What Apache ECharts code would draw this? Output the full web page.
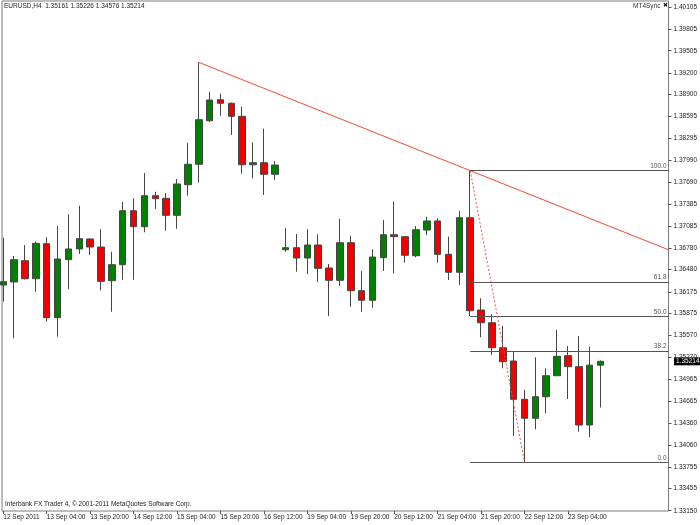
<!DOCTYPE html>
<html>
<head>
<meta charset="utf-8">
<script src="https://cdn.jsdelivr.net/npm/echarts@6/dist/echarts.min.js"></script>
<style>html,body{margin:0;padding:0;background:#fff;}#c{width:700px;height:525px;}</style>
</head>
<body>
<div id="c"></div>
<script>
// H4 bar times (index 0 = 12 Sep 12:00)
const barTimes = ['12 Sep 12:00','12 Sep 16:00','12 Sep 20:00','13 Sep 00:00','13 Sep 04:00','13 Sep 08:00','13 Sep 12:00','13 Sep 16:00','13 Sep 20:00','14 Sep 00:00','14 Sep 04:00','14 Sep 08:00','14 Sep 12:00','14 Sep 16:00','14 Sep 20:00','15 Sep 00:00','15 Sep 04:00','15 Sep 08:00','15 Sep 12:00','15 Sep 16:00','15 Sep 20:00','16 Sep 00:00','16 Sep 04:00','16 Sep 08:00','16 Sep 12:00','16 Sep 16:00','16 Sep 20:00','19 Sep 00:00','19 Sep 04:00','19 Sep 08:00','19 Sep 12:00','19 Sep 16:00','19 Sep 20:00','20 Sep 00:00','20 Sep 04:00','20 Sep 08:00','20 Sep 12:00','20 Sep 16:00','20 Sep 20:00','21 Sep 00:00','21 Sep 04:00','21 Sep 08:00','21 Sep 12:00','21 Sep 16:00','21 Sep 20:00','22 Sep 00:00','22 Sep 04:00','22 Sep 08:00','22 Sep 12:00','22 Sep 16:00','22 Sep 20:00','23 Sep 00:00','23 Sep 04:00','23 Sep 08:00','23 Sep 12:00','23 Sep 16:00'];

const opens = [1.36268,1.36310,1.36604,1.36355,1.36839,1.35817,1.36618,1.36766,1.36904,1.36793,1.36328,1.36549,1.37295,1.37074,1.37502,1.37466,1.37231,1.37654,1.37936,1.38538,1.38828,1.38779,1.38599,1.37930,1.37958,1.37798,1.36756,1.36784,1.36641,1.36821,1.36503,1.36333,1.36853,1.36190,1.36057,1.36646,1.36963,1.36936,1.36673,1.37028,1.37153,1.36692,1.36444,1.37198,1.35923,1.35747,1.35402,1.35218,1.34689,1.34427,1.34725,1.35015,1.35292,1.35140,1.34334,1.35161];
const closes = [1.36314,1.36618,1.36355,1.36844,1.35817,1.36628,1.36766,1.36908,1.36793,1.36319,1.36549,1.37295,1.37074,1.37502,1.37461,1.37231,1.37664,1.37936,1.38552,1.38824,1.38779,1.38599,1.37930,1.37958,1.37798,1.37926,1.36784,1.36641,1.36821,1.36499,1.36333,1.36853,1.36190,1.36057,1.36655,1.36963,1.36936,1.36679,1.37032,1.37153,1.36692,1.36444,1.37198,1.35913,1.35747,1.35402,1.35209,1.34689,1.34427,1.34725,1.35015,1.35283,1.35140,1.34334,1.35161,1.35214];
const highs = [1.36922,1.36669,1.36821,1.36867,1.36927,1.37083,1.37245,1.37364,1.36911,1.37038,1.36728,1.37415,1.37466,1.37816,1.37557,1.37539,1.37733,1.38234,1.39345,1.38935,1.38911,1.38790,1.38732,1.38240,1.38428,1.37981,1.37052,1.36973,1.37038,1.36969,1.36558,1.37184,1.36945,1.36462,1.36762,1.37166,1.37419,1.36945,1.37083,1.37212,1.37190,1.36936,1.37291,1.37848,1.36085,1.35864,1.35706,1.35347,1.34818,1.35269,1.35117,1.35647,1.35426,1.35564,1.35416,1.35226];
const lows = [1.36038,1.35532,1.36344,1.36176,1.35761,1.35554,1.36209,1.36697,1.36683,1.36195,1.35899,1.36342,1.36342,1.36996,1.37318,1.37019,1.37046,1.37502,1.37682,1.38520,1.38607,1.38341,1.37806,1.37742,1.37512,1.37723,1.36728,1.36452,1.36420,1.36310,1.35840,1.36255,1.35969,1.35899,1.35955,1.36462,1.36430,1.36576,1.36651,1.36955,1.36576,1.36337,1.36268,1.35840,1.35546,1.35301,1.35117,1.34182,1.33819,1.34275,1.34496,1.35011,1.34693,1.34242,1.34164,1.34576];

const xTickIndex = [0,4,8,12,16,20,24,28,32,36,40,44,48,52];
const xTickLabels = ['12 Sep 2011','13 Sep 04:00','13 Sep 20:00','14 Sep 12:00','15 Sep 04:00','15 Sep 20:00','16 Sep 12:00','19 Sep 04:00','19 Sep 20:00','20 Sep 12:00','21 Sep 04:00','21 Sep 20:00','22 Sep 12:00','23 Sep 04:00'];
const yTicks = [1.40105,1.39805,1.39505,1.39200,1.38900,1.38595,1.38295,1.37990,1.37690,1.37385,1.37085,1.36780,1.36480,1.36175,1.35875,1.35570,1.35270,1.34965,1.34665,1.34360,1.34060,1.33755,1.33455,1.33150];

// Trend line anchors (bar index, price)
const trendPoints = [[18, 1.39345], [43, 1.37848]];
// Fibonacci retracement: from bar 43 high to bar 48 low
const fibHighBar = 43, fibLowBar = 48;
const fibHigh = 1.37848, fibLow = 1.33819;
const fibLevels = [0, 38.2, 50, 61.8, 100];
const fibLabels = ['0.0', '38.2', '50.0', '61.8', '100.0'];

const header = 'EURUSD,H4  1.35161 1.35226 1.34576 1.35214';
const footer = 'Interbank FX Trader 4, \u00A9 2001-2011 MetaQuotes Software Corp.';

const X_MIN = -0.12, X_MAX = 61.26;
const Y_MIN = 1.33146, Y_MAX = 1.40192;
const FONT = 'Liberation Sans, Arial, sans-serif';
const FS = 6.5;

const candleData = opens.map((o, i) => [i, o, closes[i], lows[i], highs[i]]);
const slope = (trendPoints[1][1] - trendPoints[0][1]) / (trendPoints[1][0] - trendPoints[0][0]);
const trendData = [trendPoints[0], trendPoints[1], [X_MAX, trendPoints[1][1] + slope * (X_MAX - trendPoints[1][0])]];

const fibLines = fibLevels.map((lv, i) => {
  const p = fibLow + (fibHigh - fibLow) * lv / 100;
  return [
    { coord: [fibHighBar, p], label: { formatter: fibLabels[i] } },
    { coord: [X_MAX, p] }
  ];
});
fibLines.push([
  { coord: [fibHighBar, fibHigh], lineStyle: { color: '#e8524a', type: [2, 2], width: 1 }, label: { show: false } },
  { coord: [fibLowBar, fibLow] }
]);

function graphics(py) {
  const g = [
    { type: 'text', left: 4, top: 3, style: { text: header, font: FS + 'px ' + FONT, fill: '#222' } },
    { type: 'text', left: 633, top: 3, style: { text: 'MT4Sync', font: FS + 'px ' + FONT, fill: '#333' } },
    { type: 'text', left: 663, top: 2, style: { text: '\u2716', font: '6px DejaVu Sans', fill: '#111' } },
    { type: 'text', left: 5, top: 501, style: { text: footer, font: FS + 'px ' + FONT, fill: '#222' } }
  ];
  if (py != null) {
    g.push({ type: 'rect', shape: { x: 674, y: py - 4, width: 26, height: 8 }, style: { fill: '#000' } });
    g.push({ type: 'text', x: 676, y: py, style: { text: closes[closes.length - 1].toFixed(5), font: FS + 'px ' + FONT, fill: '#fff', textVerticalAlign: 'middle' } });
  }
  return g;
}

const chart = echarts.init(document.getElementById('c'), null, { renderer: 'canvas' });
chart.setOption({
  animation: false,
  backgroundColor: '#ffffff',
  grid: { left: 2, right: 28, top: 1, bottom: 14, show: true, borderColor: '#7a7a7a', borderWidth: 1, backgroundColor: 'transparent' },
  xAxis: {
    type: 'value', min: X_MIN, max: X_MAX, position: 'bottom',
    axisLine: { show: false, onZero: false },
    splitLine: { show: false },
    axisTick: { show: true, customValues: xTickIndex, length: 3, lineStyle: { color: '#555' } },
    axisLabel: {
      customValues: xTickIndex, align: 'left', margin: 3,
      fontFamily: FONT, fontSize: FS, color: '#222',
      formatter: v => { const k = xTickIndex.indexOf(Math.round(v)); return k >= 0 ? xTickLabels[k] : ''; }
    }
  },
  yAxis: {
    type: 'value', position: 'right', min: Y_MIN, max: Y_MAX, scale: true,
    axisLine: { show: false, onZero: false },
    splitLine: { show: false },
    axisTick: { show: true, customValues: yTicks, length: 3, lineStyle: { color: '#555' } },
    axisLabel: {
      customValues: yTicks, margin: 5, align: 'left',
      fontFamily: FONT, fontSize: FS, color: '#222',
      formatter: v => v.toFixed(5)
    }
  },
  series: [
    {
      type: 'candlestick',
      data: candleData,
      barWidth: 7,
      clip: false,
      itemStyle: { color: '#008000', color0: '#f00000', borderColor: '#454545', borderColor0: '#454545', borderWidth: 1 },
      markLine: {
        silent: true, symbol: ['none', 'none'], animation: false,
        lineStyle: { color: '#555555', width: 1, type: 'solid' },
        label: { show: true, position: 'insideEndTop', distance: [2, 1], fontFamily: FONT, fontSize: FS, color: '#555' },
        data: fibLines
      }
    },
    {
      type: 'line', data: trendData, symbol: 'none', silent: true,
      lineStyle: { color: '#ee4b3b', width: 1 }
    }
  ],
  graphic: graphics(null)
});

const py = chart.convertToPixel({ yAxisIndex: 0 }, closes[closes.length - 1]);
chart.setOption({ graphic: graphics(py) }, { replaceMerge: ['graphic'] });
</script>
</body>
</html>
